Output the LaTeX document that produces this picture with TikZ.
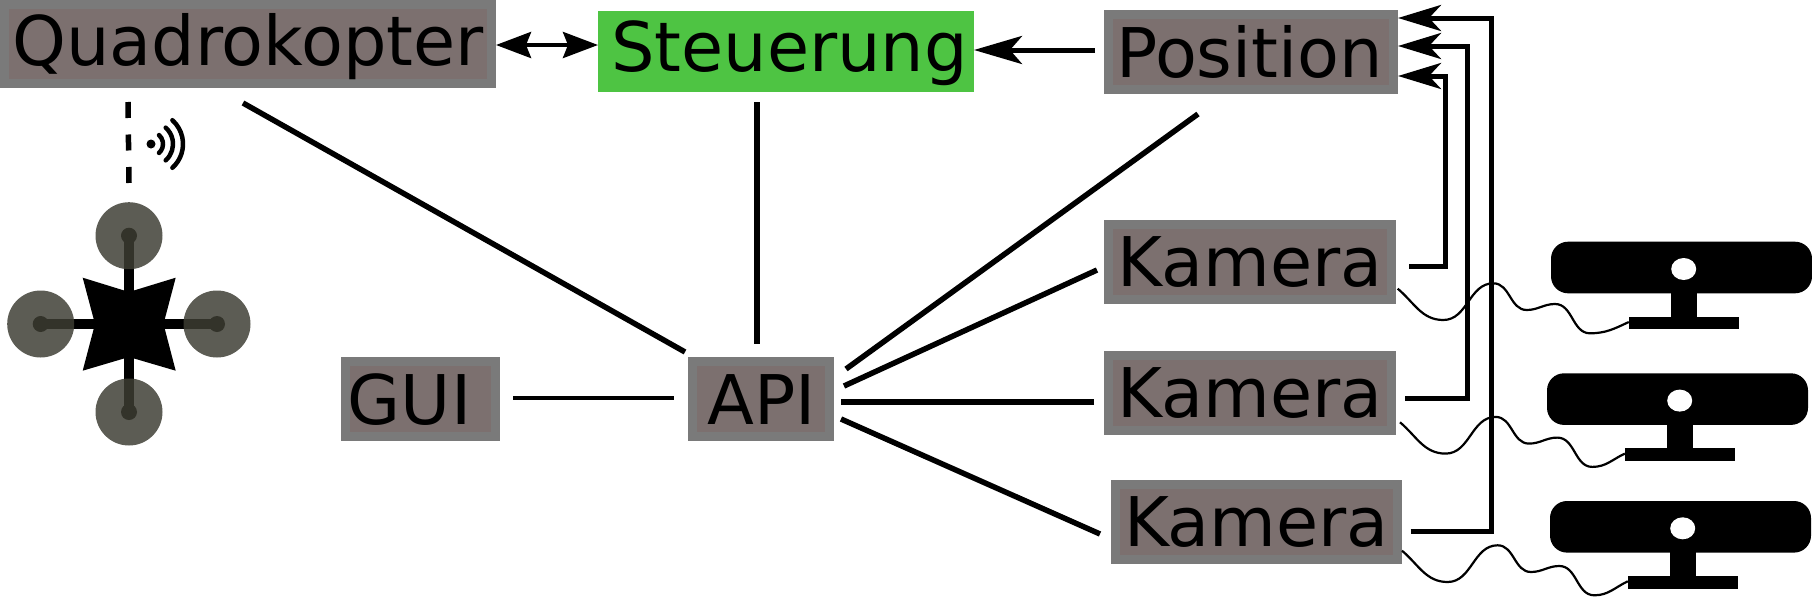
\documentclass[tikz,border=0pt]{standalone}
\usepackage{fontspec}
\setmainfont{DejaVu Sans}
\usetikzlibrary{positioning,shapes.geometric,arrows.meta,calc,backgrounds}
\definecolor{ink}      {HTML}{000000}
\definecolor{boxfill}  {HTML}{7C706F}
\definecolor{boxedge}  {HTML}{7A7A7A}
\definecolor{ctrl}     {HTML}{4EC443}
\definecolor{rotorfill}{HTML}{3D3D33}
\definecolor{hubdark}  {HTML}{33332A}
\tikzset{
  x=1pt, y=1pt,
  % --- nodes
  mod/.style    = {rectangle, draw=boxedge, fill=boxfill, line width=9pt, inner sep=0pt,
                   minimum height=75pt, text height=50pt, text depth=2pt, text=ink,
                   font=\fontsize{68.5}{80}\selectfont},
  ctrlbox/.style= {mod, draw=ctrl, fill=ctrl},
  rotor/.style  = {circle, fill=rotorfill, opacity=.84, inner sep=0pt, minimum size=67pt},
  hub/.style    = {circle, fill=hubdark, inner sep=0pt, minimum size=16pt},
  dot/.style    = {circle, fill=ink, inner sep=0pt, minimum size=9pt},
  cambar/.style = {rectangle, fill=ink, rounded corners=17pt, inner sep=0pt},
  campart/.style= {rectangle, fill=ink, inner sep=0pt},
  camhole/.style= {ellipse, fill=white, inner sep=0pt, minimum width=25pt, minimum height=22pt},
  % --- edges
  link/.style   = {line width=5.5pt, draw=ink},
  feed/.style   = {line width=5pt, draw=ink, -{Stealth[length=43pt,width=26pt,inset=12pt]}},
  wire/.style   = {line width=2.2pt, draw=ink},
  wave/.style   = {line width=4.5pt, draw=ink, line cap=round},
}
\begin{document}
\begin{tikzpicture}
  \useasboundingbox (0,0) rectangle (1812,-597);

  \node[mod, minimum width=487pt, minimum height=79pt, text depth=8pt] (quad) at (248,-44) {Quadrokopter};
  \node[ctrlbox, minimum width=367pt, minimum height=72pt, text depth=10pt] (stg) at (786,-51.5) {\hspace*{7pt}Steuerung};
  \node[mod, minimum width=285pt, text depth=0pt] (pos) at (1251,-52) {Position\hspace*{3pt}};
  \node[mod, minimum width=283pt] (kamA) at (1250,-262) {Kamera};
  \node[mod, minimum width=283pt] (kamB) at (1250,-393) {Kamera};
  \node[mod, minimum width=282pt] (kamC) at (1256.5,-522) {Kamera};
  \node[mod, minimum width=137pt, text depth=0pt] (api) at (761,-399) {\hspace*{2pt}API};
  \node[mod, minimum width=150pt, text depth=0pt] (gui) at (420.5,-399) {GUI\hspace*{22pt}};

  \draw[link, {Stealth[length=35pt,width=26pt,inset=5pt]}-{Stealth[length=35pt,width=26pt,inset=5pt]}, line width=4pt]
    (quad.east |- 0,-45) -- (stg.west |- 0,-45);
  \draw[feed, -{Stealth[length=48pt,width=28pt,inset=12pt]}] ([xshift=-9pt,yshift=2pt]pos.west) -- ([yshift=1.5pt]stg.east);
  \draw[link] ([xshift=-5pt,yshift=-15pt]quad.south) -- ([xshift=-3pt,yshift=5pt]api.north west);
  \draw[link] ([xshift=-29pt,yshift=-10pt]stg.south) -- ([xshift=-4pt,yshift=13pt]api.north);
  \draw[link] ([xshift=-53pt,yshift=-20pt]pos.south) -- ([xshift=12pt,yshift=-12pt]api.north east);
  \draw[link] ([xshift=-7pt,yshift=-8pt]kamA.west) -- ([xshift=10pt,yshift=13pt]api.east);
  \draw[link] ([xshift=-10pt,yshift=-9pt]kamB.west) -- ([xshift=7pt,yshift=-3pt]api.east);
  \draw[link] ([xshift=-11pt,yshift=-12pt]kamC.west) -- ([xshift=7pt,yshift=-20pt]api.east);
  \draw[link, line width=4pt] ([xshift=13pt,yshift=1.5pt]gui.east) -- ([xshift=-14pt,yshift=1.5pt]api.west);

  \draw[feed] ([xshift=13pt,yshift=-4pt]kamA.east) -- ++(36,0) |- ([yshift=-24pt]pos.east);
  \draw[feed] ([xshift=9pt,yshift=-5.7pt]kamB.east) -- ++(62.4,0) |- ([yshift=6pt]pos.east);
  \draw[feed] ([xshift=8.7pt,yshift=-9.7pt]kamC.east) -- ++(81,0) |- ([yshift=34pt]pos.east);

  \foreach \nam/\dx/\dy/\sx/\sy in {A/0/0/1.7/15.3, B/-4/-131.6/4/12.7, C/-1/-259.3/0/13.3} {
    \begin{scope}[shift={(\dx,\dy)}]
      \node[campart, minimum width=25.7pt, minimum height=24pt] (neck\nam) at (1684,-305) {};
      \node[campart, minimum width=110pt, minimum height=12.4pt] (foot\nam) at (1684,-323) {};
      \node[cambar, minimum width=261pt, minimum height=51.6pt] (bar\nam) at (1681.5,-267.5) {};
      \node[camhole] (hole\nam) at (1683.7,-269) {};
    \end{scope}
    \draw[wire] ([xshift=\sx pt,yshift=\sy pt]kam\nam.south east)
      to[out=-40,in=180] ++(45.6,-31.3)
      to[out=0,in=180] ++(50,36.7)
      to[out=0,in=180] ++(33.4,-26.7)
      to[out=0,in=180] ++(28.3,6)
      to[out=0,in=180] ++(35,-29.3)
      to[out=0,in=205] ([yshift=1pt]foot\nam.west);
  }

  \node[rotor] (rotN) at (129,-235.7) {};
  \node[rotor] (rotS) at (129,-412) {};
  \node[rotor] (rotW) at (40.7,-324) {};
  \node[rotor] (rotE) at (217,-324) {};
  \begin{scope}[on background layer]
    \draw[line width=10pt, draw=ink] (rotN.center) -- (rotS.center);
    \draw[line width=10pt, draw=ink] (rotW.center) -- (rotE.center);
  \end{scope}
  \fill[ink] (82.7,-277.7) -- (129,-292) -- (175.7,-277.7) -- (163.5,-324) -- (175.7,-370.7)
    -- (129,-357) -- (82.7,-370.7) -- (95,-324) -- cycle;
  \foreach \nam in {N,S,W,E} {
    \node[hub] (hub\nam) at (rot\nam.center) {};
  }

  \draw[link, dash pattern=on 16pt off 16.5pt] ([xshift=-120pt,yshift=-14pt]quad.south) -- ([yshift=19pt]rotN.north);
  \node[dot] (wifi) at (151,-144) {};
  \foreach \rad in {12,22,32} {
    \draw[wave] (wifi.center) ++(-48:\rad) arc[start angle=-48,end angle=48,radius=\rad];
  }
\end{tikzpicture}
\end{document}
